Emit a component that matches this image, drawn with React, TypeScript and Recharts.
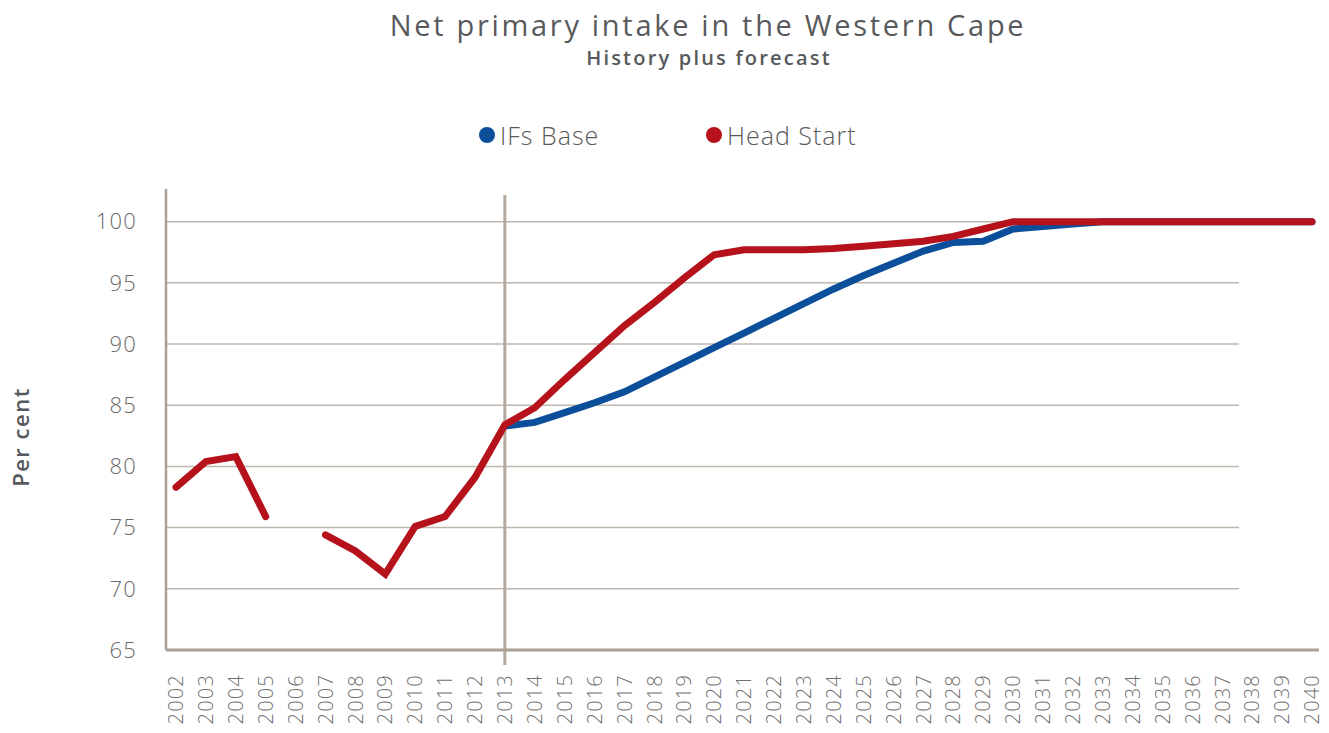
import React from 'react';
import { LineChart, Line, XAxis, YAxis, ReferenceLine } from 'recharts';

// Years on the category axis
const years = [
  2002, 2003, 2004, 2005, 2006, 2007, 2008, 2009, 2010, 2011, 2012, 2013, 2014,
  2015, 2016, 2017, 2018, 2019, 2020, 2021, 2022, 2023, 2024, 2025, 2026, 2027,
  2028, 2029, 2030, 2031, 2032, 2033, 2034, 2035, 2036, 2037, 2038, 2039, 2040,
];

// IFs Base forecast only starts in 2013
const ifsBase: (number | null)[] = [
  null, null, null, null, null, null, null, null, null, null, null, 83.3, 83.6,
  84.4, 85.2, 86.1, 87.3, 88.5, 89.7, 90.9, 92.1, 93.3, 94.5, 95.6, 96.6, 97.6,
  98.3, 98.4, 99.4, 99.6, 99.8, 100, 100, 100, 100, 100, 100, 100, 100,
];

// Head Start: history (gap in 2006) plus forecast
const headStart: (number | null)[] = [
  78.3, 80.4, 80.8, 75.9, null, 74.4, 73.1, 71.2, 75.1, 75.9, 79.1, 83.4, 84.8,
  87.1, 89.3, 91.5, 93.4, 95.4, 97.3, 97.7, 97.7, 97.7, 97.8, 98.0, 98.2, 98.4,
  98.8, 99.4, 100, 100, 100, 100, 100, 100, 100, 100, 100, 100, 100,
];

const yTicks = [65, 70, 75, 80, 85, 90, 95, 100];
const gridValues = [70, 75, 80, 85, 90, 95, 100];

const BLUE = '#0b4f9b';
const RED = '#b5121b';
const AXIS = '#aaa094';
const GRID = '#bfb7ad';
const FONT = '"Open Sans", "DejaVu Sans", sans-serif';

const data = years.map((year, i) => ({ year, base: ifsBase[i], head: headStart[i] }));

const YearTick = ({ x, y, payload }: any) => (
  <text
    x={x}
    y={y}
    transform={`rotate(-90, ${x}, ${y})`}
    textAnchor="end"
    dy="0.36em"
    fill="#6f6f6f"
    fontSize={20}
    fontWeight={300}
    letterSpacing={1.2}
    fontFamily={FONT}
  >
    {payload.value}
  </text>
);

const LegendItem = ({ color, label, left }: { color: string; label: string; left: number }) => (
  <div style={{ position: 'absolute', left, top: 118, height: 34, display: 'flex', alignItems: 'center' }}>
    <div style={{ width: 16, height: 16, borderRadius: 8, background: color, marginRight: 5 }} />
    <span style={{ fontSize: 25, fontWeight: 300, color: '#5a5a5a', letterSpacing: 1, lineHeight: '34px' }}>{label}</span>
  </div>
);

export default function App() {
  return (
    <div style={{ position: 'relative', width: 1329, height: 733, background: '#fff', fontFamily: FONT }}>
      <style>{'body{margin:0}'}</style>
      <div style={{ position: 'absolute', left: 208, width: 1000, top: 10, textAlign: 'center', fontSize: 29, fontWeight: 500, color: '#58595b', lineHeight: '29px', letterSpacing: 2.7 }}>
        Net primary intake in the Western Cape
      </div>
      <div style={{ position: 'absolute', left: 209, width: 1000, top: 48, textAlign: 'center', fontSize: 20, fontWeight: 600, color: '#58595b', lineHeight: '20px', letterSpacing: 2.2 }}>
        History plus forecast
      </div>
      <LegendItem color={BLUE} label="IFs Base" left={479} />
      <LegendItem color={RED} label="Head Start" left={706} />
      <div style={{ position: 'absolute', left: 20, top: 437, transform: 'translate(-50%, -50%) rotate(-90deg)', fontSize: 22, fontWeight: 600, color: '#58595b', whiteSpace: 'nowrap', letterSpacing: 1.5 }}>
        Per cent
      </div>

      <LineChart width={1329} height={733} data={data} margin={{ top: 189, right: 10, bottom: 0, left: 106 }} style={{ position: 'absolute', left: 0, top: 0 }}>
        <XAxis
          dataKey="year"
          type="number"
          domain={[2001.665, 2040.234]}
          allowDataOverflow
          ticks={years}
          interval={0}
          height={83}
          tickSize={0}
          tickMargin={24}
          tickLine={false}
          axisLine={{ stroke: AXIS, strokeWidth: 3 }}
          tick={<YearTick />}
        />
        <YAxis
          type="number"
          domain={[65, 102.67]}
          allowDataOverflow
          ticks={yTicks}
          interval={0}
          width={60}
          tickSize={0}
          tickMargin={29}
          tickLine={false}
          axisLine={{ stroke: AXIS, strokeWidth: 2.5 }}
          tick={{ fill: '#6a6a6a', fontSize: 22, fontWeight: 300, fontFamily: FONT, letterSpacing: 1.2 }}
        />
        {gridValues.map((v) => (
          <ReferenceLine
            key={v}
            segment={[{ x: 2001.665, y: v }, { x: 2037.56, y: v }]}
            stroke={GRID}
            strokeWidth={1.5}
          />
        ))}
        <ReferenceLine
          segment={[{ x: 2013, y: 63.77 }, { x: 2013, y: 102.18 }]}
          ifOverflow="visible"
          stroke="#b3a99d"
          strokeWidth={3}
        />
        <Line
          type="linear"
          dataKey="base"
          name="IFs Base"
          stroke={BLUE}
          strokeWidth={7}
          strokeLinecap="round"
          dot={false}
          activeDot={false}
          connectNulls={false}
          isAnimationActive={false}
        />
        <Line
          type="linear"
          dataKey="head"
          name="Head Start"
          stroke={RED}
          strokeWidth={7}
          strokeLinecap="round"
          dot={false}
          activeDot={false}
          connectNulls={false}
          isAnimationActive={false}
        />
      </LineChart>
    </div>
  );
}
